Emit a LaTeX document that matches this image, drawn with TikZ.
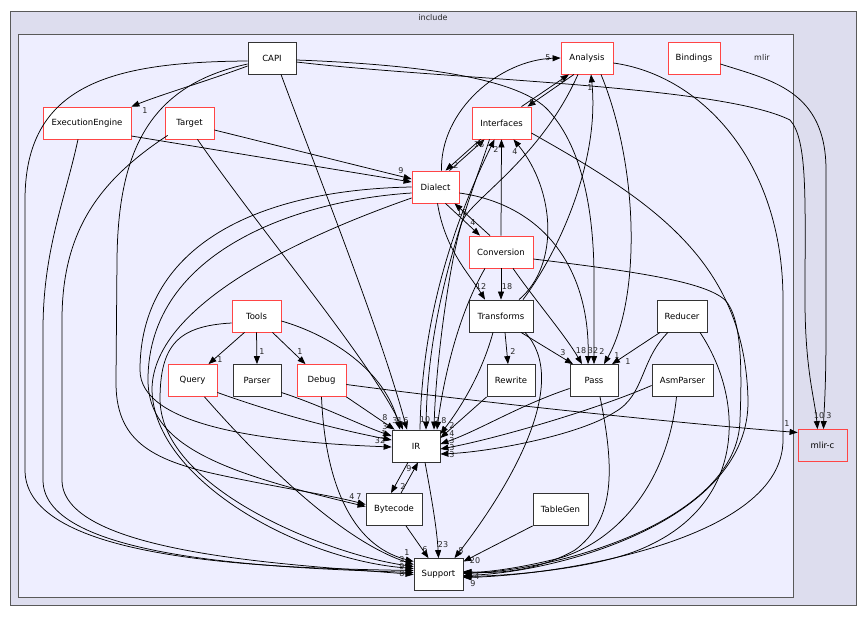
\documentclass[tikz,border=0pt]{standalone}
\usepackage{fontspec}
\setmainfont{DejaVu Sans}
\usepackage{tikz}
\usetikzlibrary{arrows.meta}
\definecolor{incfill}{HTML}{DDDDEE}
\definecolor{mlirfill}{HTML}{EEEEFF}
\definecolor{dirred}{HTML}{FF4545}
\tikzstyle{dirbox}=[draw=black!80, fill=white, line width=0.8pt, minimum height=32pt, inner sep=0pt, font=\fontsize{8.5}{10}\selectfont]
\tikzstyle{dirsub}=[dirbox, draw=dirred]
\tikzstyle{dep}=[draw=black, line width=0.75pt, -{Triangle[length=8pt,width=6pt]}]
\tikzstyle{num}=[font=\fontsize{8}{9}\selectfont, inner sep=0pt, text=black!85]

\begin{document}
\begin{tikzpicture}[x=1pt,y=-1pt]
\useasboundingbox (0,0) rectangle (865,616);
\draw[fill=incfill, draw=black!65] (10,11) rectangle (856,605); % include
\node[num] (incl) at (433,18) {include};
\draw[fill=mlirfill, draw=black!65] (18,34) rectangle (793,597); % mlir
\node[num] (mlirlbl) at (762,57) {mlir};

\node[dirbox, minimum width=48pt] (capi) at (272,58) {CAPI};
\node[dirsub, minimum width=52pt] (analysis) at (587,58) {Analysis};
\node[dirsub, minimum width=52pt] (bindings) at (694,58) {Bindings};
\node[dirsub, minimum width=88pt] (execeng) at (87,123) {ExecutionEngine};
\node[dirsub, minimum width=49pt] (target) at (189.5,123) {Target};
\node[dirsub, minimum width=59pt] (interfaces) at (501.5,123) {Interfaces};
\node[dirsub, minimum width=47pt] (dialect) at (435.5,187) {Dialect};
\node[dirsub, minimum width=64pt] (conversion) at (501,252) {Conversion};
\node[dirbox, minimum width=64pt] (transforms) at (501,316) {Transforms};
\node[dirbox, minimum width=50pt] (reducer) at (682,316) {Reducer};
\node[dirsub, minimum width=49pt] (tools) at (256.5,316) {Tools};
\node[dirsub, minimum width=49pt] (query) at (192.5,380.5) {Query};
\node[dirbox, minimum width=48pt] (parser) at (257,380.5) {Parser};
\node[dirsub, minimum width=49pt] (debug) at (321.5,380.5) {Debug};
\node[dirbox, minimum width=48pt] (rewrite) at (511,380.5) {Rewrite};
\node[dirbox, minimum width=48pt] (pass) at (594,380.5) {Pass};
\node[dirbox, minimum width=61pt] (asmparser) at (682.5,380.5) {AsmParser};
\node[dirbox, minimum width=48pt] (ir) at (416,446) {IR};
\node[dirbox, minimum width=56pt] (bytecode) at (394,509.5) {Bytecode};
\node[dirbox, minimum width=55pt] (tablegen) at (560.5,509.5) {TableGen};
\node[dirbox, minimum width=49pt] (support) at (438.5,574.5) {Support};
\node[dirsub, fill=incfill, minimum width=49pt] (mlirc) at (822.5,445.5) {mlir-c};

% CAPI
\draw[dep] ([shift={(0,8)}]capi.west) .. controls (210,80) and (160,95) .. (execeng.north east) node[num] at (145,111) {1};
\draw[dep] ([shift={(9,0)}]capi.south) .. controls (320,180) and (380,330) .. ([shift={(-9,0)}]ir.north) node[num] at (395,421) {3};
\draw[dep] ([shift={(0,3)}]capi.west) .. controls (110,62) and (25,85) .. (25,200) -- (25,470) .. controls (25,560) and (260,568) .. ([shift={(0,-4)}]support.west);
\draw[dep] ([shift={(0,6)}]capi.west) .. controls (150,85) and (118,150) .. (117,260) -- (116,380) .. controls (115,440) and (150,460) .. (220,475) .. controls (280,488) and (330,495) .. ([shift={(0,-5)}]bytecode.west) node[num] at (352,497) {4};
\draw[dep] ([shift={(0,2)}]capi.east) .. controls (430,65) and (520,80) .. (548,110) .. controls (585,150) and (595,220) .. (594,290) -- (pass.north) node[num] at (602,352) {2};
\draw[dep] ([shift={(0,4)}]capi.east) .. controls (450,80) and (720,85) .. (790,120) .. controls (808,140) and (805,200) .. (805,300) .. controls (805,370) and (815,400) .. ([shift={(-5,0)}]mlirc.north) node[num] at (819,416) {10};

% ExecutionEngine, Target
\draw[dep] ([shift={(-9,0)}]execeng.south) .. controls (65,200) and (43,250) .. (43,330) -- (43,480) .. controls (43,560) and (280,568) .. ([shift={(0,-2)}]support.west);
\draw[dep] ([shift={(0,13)}]execeng.east) -- ([shift={(0,-5)}]dialect.west);
\draw[dep] ([shift={(0,7)}]target.east) -- ([shift={(0,-8)}]dialect.west) node[num] at (401,171) {9};
\draw[dep] ([shift={(8,0)}]target.south) .. controls (260,230) and (370,360) .. ([shift={(-13,0)}]ir.north) node[num] at (400,421) {1};
\draw[dep] ([shift={(3,-4)}]target.south west) .. controls (100,180) and (62,230) .. (62,320) -- (62,480) .. controls (62,555) and (300,565) .. (support.west);

% Dialect
\draw[dep] ([shift={(6,0)}]dialect.north) .. controls (440,110) and (500,60) .. (analysis.west) node[num] at (548,58) {5};
\draw[dep] ([shift={(14,0)}]dialect.north) -- ([shift={(-17,0)}]interfaces.south) node[num] at (479,145) {16};
\draw[dep] ([shift={(-21,0)}]interfaces.south) -- ([shift={(10,0)}]dialect.north) node[num] at (456,166) {2};
\draw[dep] ([shift={(10,0)}]dialect.south) -- ([shift={(-21,0)}]conversion.north) node[num] at (473,223) {4};
\draw[dep] ([shift={(-11,0)}]conversion.north) -- ([shift={(19,0)}]dialect.south) node[num] at (462,213) {16};
\draw[dep] ([shift={(2,0)}]dialect.south) .. controls (445,250) and (470,275) .. ([shift={(-16,0)}]transforms.north) node[num] at (481,287) {12};
\draw[dep] ([shift={(0,6)}]dialect.east) .. controls (545,205) and (590,270) .. ([shift={(-6,0)}]pass.north) node[num] at (593,351) {32};
\draw[dep] (dialect.west) .. controls (250,190) and (140,250) .. (140,370) .. controls (140,425) and (260,442) .. ([shift={(0,1)}]ir.west) node[num] at (380,441) {32};
\draw[dep] ([shift={(0,6)}]dialect.west) .. controls (300,200) and (148,250) .. (148,380) .. controls (148,445) and (220,472) .. ([shift={(0,-3)}]bytecode.west) node[num] at (359,497) {7};
\draw[dep] ([shift={(0,11)}]dialect.west) .. controls (320,230) and (152,300) .. (152,390) .. controls (154,480) and (300,560) .. ([shift={(0,-6)}]support.west) node[num] at (402,574) {8};

% Interfaces, Analysis
\draw[dep] ([shift={(-12,0)}]interfaces.south) .. controls (470,200) and (428,300) .. ([shift={(10,0)}]ir.north) node[num] at (425,420) {10};
\draw[dep] ([shift={(4,0)}]ir.north) .. controls (422,300) and (465,200) .. ([shift={(-7,0)}]interfaces.south) node[num] at (496,150) {2};
\draw[dep] (conversion.north) -- (interfaces.south);
\draw[dep] ([shift={(20,0)}]interfaces.north) -- ([shift={(-18,0)}]analysis.south) node[num] at (562,80) {1};
\draw[dep] ([shift={(-13,0)}]analysis.south) -- ([shift={(26,0)}]interfaces.north) node[num] at (532,103) {5};
\draw[dep] ([shift={(0,10)}]interfaces.east) .. controls (650,200) and (745,260) .. (748,400) .. controls (750,520) and (560,572) .. ([shift={(0,1)}]support.east);
\draw[dep] ([shift={(-9,0)}]analysis.south) .. controls (540,160) and (470,200) .. (462,222) .. controls (450,260) and (436,360) .. ([shift={(18,0)}]ir.north) node[num] at (437,421) {2};
\draw[dep] ([shift={(14,0)}]analysis.south) .. controls (640,170) and (640,300) .. ([shift={(10,0)}]pass.north) node[num] at (617,356) {1};
\draw[dep] ([shift={(0,5)}]analysis.east) .. controls (700,75) and (783,160) .. (783,300) -- (783,440) .. controls (783,540) and (560,575) .. ([shift={(0,3)}]support.east);

% Conversion
\draw[dep] (conversion.south) -- (transforms.north) node[num] at (507,287) {18};
\draw[dep] ([shift={(12,0)}]conversion.south) .. controls (535,300) and (565,335) .. ([shift={(-12,0)}]pass.north) node[num] at (581,351) {18};
\draw[dep] ([shift={(-16,0)}]conversion.south) .. controls (455,320) and (442,390) .. ([shift={(21,0)}]ir.north) node[num] at (444,421) {8};
\draw[dep] ([shift={(0,7)}]conversion.east) .. controls (640,272) and (705,282) .. (725,300) .. controls (742,318) and (742,370) .. (740,420) .. controls (738,520) and (560,570) .. ([shift={(0,-1)}]support.east);

% Transforms
\draw[dep] ([shift={(4,0)}]transforms.south) -- ([shift={(-3,0)}]rewrite.north) node[num] at (513,352) {2};
\draw[dep] ([shift={(20,0)}]transforms.south) -- ([shift={(-21,0)}]pass.north) node[num] at (563,353) {3};
\draw[dep] ([shift={(-8,0)}]transforms.south) .. controls (480,380) and (455,415) .. ([shift={(0,-12)}]ir.east) node[num] at (452,426) {2};
\draw[dep] ([shift={(24,0)}]transforms.south) .. controls (570,380) and (515,480) .. ([shift={(16,0)}]support.north) node[num] at (461,551) {8};
\draw[dep] ([shift={(22,0)}]transforms.north) .. controls (560,250) and (600,160) .. ([shift={(4,0)}]analysis.south) node[num] at (590,88) {1};
\draw[dep] ([shift={(18,0)}]transforms.north) .. controls (560,265) and (555,190) .. ([shift={(12,0)}]interfaces.south) node[num] at (515,152) {4};

% Tools
\draw[dep] ([shift={(-12,0)}]tools.south) -- ([shift={(16,0)}]query.north) node[num] at (220,360) {1};
\draw[dep] (tools.south) -- (parser.north) node[num] at (262,352) {1};
\draw[dep] ([shift={(16,0)}]tools.south) -- ([shift={(-16,0)}]debug.north) node[num] at (300,352) {1};
\draw[dep] ([shift={(0,5)}]tools.east) .. controls (330,335) and (385,370) .. ([shift={(-16,0)}]ir.north) node[num] at (406,421) {6};
\draw[dep] ([shift={(0,7)}]tools.west) .. controls (178,326) and (160,345) .. (160,400) .. controls (162,490) and (330,555) .. ([shift={(0,-8)}]support.west) node[num] at (402,560) {3};

% Query, Parser, Debug
\draw[dep] ([shift={(0,12)}]query.east) .. controls (280,415) and (340,430) .. ([shift={(0,-6)}]ir.west) node[num] at (384,434) {1};
\draw[dep] ([shift={(0,12)}]parser.east) .. controls (320,405) and (360,425) .. ([shift={(0,-10)}]ir.west) node[num] at (385,427) {3};
\draw[dep] (debug.south east) -- ([shift={(3,0)}]ir.north west) node[num] at (385,418) {8};
\draw[dep] ([shift={(12,0)}]query.south) .. controls (260,460) and (340,540) .. ([shift={(0,-10)}]support.west) node[num] at (402,567) {9};
\draw[dep] (debug.south) .. controls (325,480) and (350,545) .. ([shift={(0,-13)}]support.west) node[num] at (407,553) {1};
\draw[dep] ([shift={(0,4)}]debug.east) .. controls (500,405) and (700,425) .. ([shift={(0,-13)}]mlirc.west) node[num] at (787,424) {1};

% Rewrite, Pass, AsmParser, Reducer
\draw[dep] (rewrite.south west) -- ([shift={(0,-8)}]ir.east) node[num] at (452,434) {4};
\draw[dep] ([shift={(0,8)}]pass.west) .. controls (520,405) and (480,430) .. ([shift={(0,-2)}]ir.east) node[num] at (452,441) {3};
\draw[dep] ([shift={(0,5)}]asmparser.west) .. controls (590,412) and (490,440) .. ([shift={(0,3)}]ir.east) node[num] at (452,448) {3};
\draw[dep] ([shift={(-14,0)}]reducer.south) .. controls (640,360) and (645,395) .. (615,412) .. controls (580,435) and (490,452) .. ([shift={(0,8)}]ir.east) node[num] at (452,455) {3};
\draw[dep] ([shift={(-22,0)}]reducer.south) -- ([shift={(18,0)}]pass.north) node[num] at (628,362) {1};
\draw[dep] ([shift={(18,0)}]reducer.south) .. controls (745,400) and (745,500) .. (650,545) .. controls (600,570) and (500,576) .. ([shift={(0,2)}]support.east);
\draw[dep] ([shift={(6,0)}]pass.south) .. controls (615,470) and (615,520) .. (575,550) .. controls (540,570) and (500,574) .. ([shift={(0,-3)}]support.east) node[num] at (477,577) {4};
\draw[dep] ([shift={(-6,0)}]asmparser.south) .. controls (668,480) and (620,540) .. (560,558) .. controls (520,568) and (490,572) .. ([shift={(0,-2)}]support.east) node[num] at (473,584) {9};

% IR, Bytecode, TableGen
\draw[dep] ([shift={(-8,0)}]ir.south) -- ([shift={(-3,0)}]bytecode.north) node[num] at (403,487) {2};
\draw[dep] ([shift={(7,0)}]bytecode.north) -- ([shift={(2,0)}]ir.south) node[num] at (409,469) {9};
\draw[dep] ([shift={(9,0)}]ir.south) .. controls (432,500) and (437,530) .. (support.north) node[num] at (443,545) {23};
\draw[dep] ([shift={(12,0)}]bytecode.south) -- ([shift={(-10,0)}]support.north) node[num] at (425,550) {6};
\draw[dep] (tablegen.south west) -- ([shift={(0,-13)}]support.east) node[num] at (475,561) {20};

% Bindings
\draw[dep] ([shift={(0,6)}]bindings.east) .. controls (770,80) and (826,90) .. (826,170) -- (826,330) .. controls (826,390) and (824,410) .. ([shift={(1,0)}]mlirc.north) node[num] at (829,416) {3};
\end{tikzpicture}
\end{document}
